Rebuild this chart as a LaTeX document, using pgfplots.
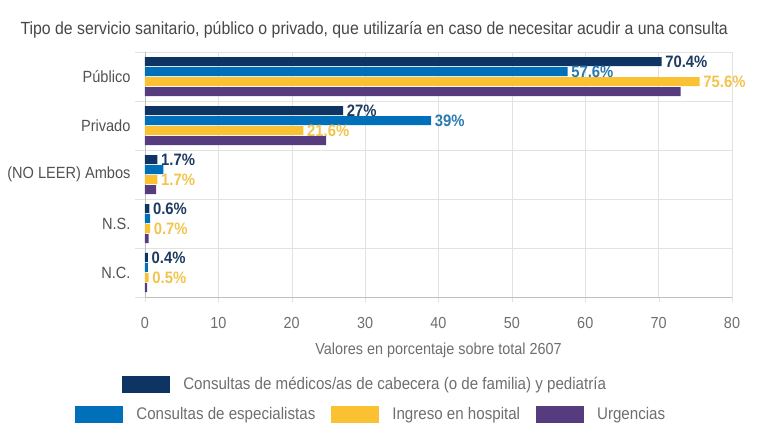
\documentclass[border=0pt]{standalone}
\usepackage{pgfplots}
\pgfplotsset{compat=1.18}
\usepackage{fontspec}
\setmainfont{Liberation Sans}[FakeStretch=0.9]

\definecolor{navy}{HTML}{0E3463}
\definecolor{azul}{HTML}{0070BA}
\definecolor{amarillo}{HTML}{FAC232}
\definecolor{morado}{HTML}{563B7E}
\definecolor{navylab}{HTML}{1E3A60}
\definecolor{azullab}{HTML}{2A7AB0}
\definecolor{amarillolab}{HTML}{F2C44E}
\definecolor{rejilla}{HTML}{E2E2E2}
\definecolor{textogris}{HTML}{6E6E6E}

\pgfplotsset{
  barra/.style={legend image code/.code={\fill[##1, draw=none] (0pt,-8.5pt) rectangle (48pt,8.5pt);}},
  etiqueta/.style={nodes near coords, point meta=explicit symbolic,
    nodes near coords style={anchor=west, inner sep=3.5pt, text=#1,
      font=\fontsize{16.5}{18}\selectfont\bfseries}},
  leyenda/.style={draw=none, fill=none, inner sep=0pt,
      font=\fontsize{16.8}{19}\selectfont, text=textogris,
      /tikz/every odd column/.append style={column sep=11pt},
      /tikz/every even column/.append style={column sep=14pt}},
}

\begin{document}
\begin{tikzpicture}
\useasboundingbox (-145pt,-146pt) rectangle (623pt,297pt);
\node[anchor=west, text=black!72, font=\fontsize{17.6}{20}\selectfont] at (-128pt,267pt)
  {Tipo de servicio sanitario, público o privado, que utilizaría en caso de necesitar acudir a una consulta};

\begin{axis}[
    at={(0pt,0pt)}, anchor=south west,
    width=587pt, height=245pt, scale only axis,
    xbar, bar width=9pt,
    xmin=0, xmax=80, ymin=-0.5, ymax=4.5, y dir=reverse,
    axis x line*=bottom, axis y line*=left,
    axis line style={draw=black!25},
    xtick={0,10,...,80}, xmajorgrids,
    major grid style={draw=rejilla},
    tick align=outside, major tick length=5pt,
    x tick style={draw=rejilla},
    ytick={0,...,4},
    yticklabels={Público,Privado,(NO LEER) Ambos,N.S.,N.C.},
    y tick style={draw=none},
    minor ytick={-0.5,0.5,...,4.5}, yminorgrids,
    minor y tick style={draw=rejilla}, minor tick length=10pt,
    minor grid style={draw=rejilla},
    /pgf/number format/assume math mode=true,
    tick label style={font=\fontsize{16}{18}\selectfont, text=textogris},
    yticklabel style={text=black!68, xshift=-6pt, font=\fontsize{16.2}{18}\selectfont},
    xticklabel style={yshift=-12pt},
    xlabel={Valores en porcentaje sobre total 2607},
    xlabel style={at={(axis description cs:0.5,-0.216)}, anchor=center,
      font=\fontsize{16}{18}\selectfont, text=textogris},
    legend style={at={(axis description cs:-0.039,-0.357)}, anchor=west, leyenda},
    clip=false,
  ]
\addplot[fill=navy, draw=none, bar shift=15pt, barra, etiqueta=navylab]
  coordinates {(70.4,0) [70.4\%] (27,1) [27\%] (1.7,2) [1.7\%] (0.6,3) [0.6\%] (0.4,4) [0.4\%]};
\addlegendentry{Consultas de médicos/as de cabecera (o de familia) y pediatría}
\addplot[fill=azul, draw=none, bar shift=5pt, etiqueta=azullab, forget plot]
  coordinates {(57.6,0) [57.6\%] (39,1) [39\%] (2.5,2) [] (0.7,3) [] (0.4,4) []};
\addplot[fill=amarillo, draw=none, bar shift=-5pt, etiqueta=amarillolab, forget plot]
  coordinates {(75.6,0) [75.6\%] (21.6,1) [21.6\%] (1.7,2) [1.7\%] (0.7,3) [0.7\%] (0.5,4) [0.5\%]};
\addplot[fill=morado, draw=none, bar shift=-15pt, forget plot]
  coordinates {(73.0,0) (24.7,1) (1.5,2) (0.5,3) (0.3,4)};
\end{axis}

\begin{axis}[
    at={(0pt,0pt)}, anchor=south west,
    width=587pt, height=245pt, scale only axis,
    hide axis, xmin=0, xmax=1, ymin=0, ymax=1,
    legend columns=3,
    legend style={at={(axis description cs:-0.119,-0.478)}, anchor=west, leyenda},
  ]
\addlegendimage{barra, fill=azul, draw=none}
\addlegendentry{Consultas de especialistas}
\addlegendimage{barra, fill=amarillo, draw=none}
\addlegendentry{Ingreso en hospital}
\addlegendimage{barra, fill=morado, draw=none}
\addlegendentry{Urgencias}
\end{axis}
\end{tikzpicture}
\end{document}
